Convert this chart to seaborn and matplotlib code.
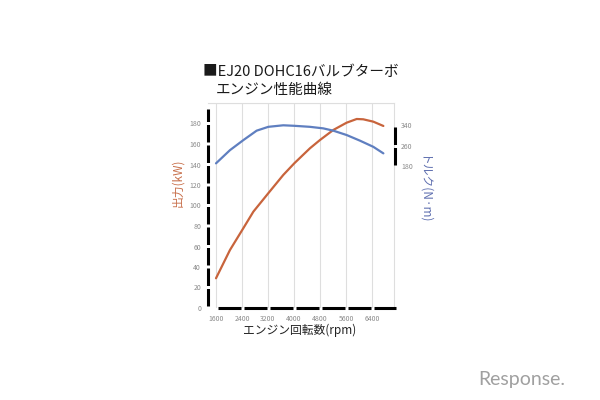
import matplotlib
matplotlib.use("Agg")
import matplotlib.pyplot as plt
import seaborn as sns
import pandas as pd

# ---- data ----
power_rpm = [1600, 2030, 2440, 2750, 3210, 3670, 4010, 4490, 4800, 5210, 5620, 5930, 6130, 6440, 6750]
power_kw = [29, 56.6, 77.8, 94, 112, 129.8, 141.2, 155.8, 163.9, 173.7, 180.8, 184.4, 184.1, 181.8, 177.6]
torque_rpm = [1600, 2030, 2440, 2850, 3210, 3670, 4010, 4490, 4900, 5210, 5620, 6030, 6440, 6750]
torque_nm = [190.5, 242, 281, 318, 333, 339, 337, 333, 327, 318, 301, 279, 255, 229.5]

x_ticks = [1600, 2400, 3200, 4000, 4800, 5600, 6400]
left_ticks = [0, 20, 40, 60, 80, 100, 120, 140, 160, 180]
right_ticks = [180, 260, 340]

title1 = "■EJ20 DOHC16バルブターボ"
title2 = "エンジン性能曲線"
xlabel = "エンジン回転数(rpm)"
ylabel_left = "出力(kW)"
ylabel_right = "トルク(N·m)"

power_df = pd.DataFrame({"rpm": power_rpm, "kW": power_kw})
torque_df = pd.DataFrame({"rpm": torque_rpm, "Nm": torque_nm})

sns.set_style("white")
plt.rcParams["font.family"] = ["Noto Sans CJK JP", "DejaVu Sans"]
plt.rcParams["lines.scale_dashes"] = False

ORANGE = "#c8643c"
BLUE = "#5f7fc0"
GRID = "#dedede"
TICKC = "#8a8a8a"

fig = plt.figure(figsize=(6, 4), dpi=100)
fig.patch.set_facecolor("white")
ax = fig.add_axes([208 / 600, 1 - 308 / 400, 186 / 600, 205 / 400])
ax2 = ax.twinx()

sns.lineplot(data=power_df, x="rpm", y="kW", ax=ax, color=ORANGE, linewidth=1.6)
sns.lineplot(data=torque_df, x="rpm", y="Nm", ax=ax2, color=BLUE, linewidth=1.6)

ax.set_xlim(1354, 7077)
ax.set_ylim(0, 200)
ax2.set_ylim(-374, 426)

ax.set_xticks(x_ticks)
ax.set_yticks(left_ticks)
ax2.set_yticks(right_ticks)
ax.set_xticklabels([str(v) for v in x_ticks])
ax.set_yticklabels([str(v) for v in left_ticks])
ax2.set_yticklabels([str(v) for v in right_ticks])

# grid: vertical at x ticks, horizontal every 20 up to top
ax.set_yticks(list(range(0, 201, 20)), minor=True)
ax.grid(True, which="major", axis="x", color=GRID, linewidth=0.8)
ax.grid(True, which="minor", axis="y", color=GRID, linewidth=0.8)
ax.set_axisbelow(True)

ax.tick_params(axis="both", which="both", length=0, labelsize=5, colors=TICKC)
ax.tick_params(axis="y", pad=5)
ax.tick_params(axis="x", pad=5)
ax2.tick_params(axis="y", length=0, labelsize=5, colors=TICKC, pad=4)

ax.set_xlabel("")
ax.set_ylabel("")
ax2.set_ylabel("")

# spines
for a in (ax, ax2):
    a.spines["top"].set_visible(False)
for s in ("left", "bottom", "right"):
    ax2.spines[s].set_visible(False)
ax.spines["right"].set_color(GRID)
ax.spines["right"].set_linewidth(0.8)
ax.spines["top"].set_visible(True)
ax.spines["top"].set_color(GRID)
ax.spines["top"].set_linewidth(0.8)

px_per_kw = 205 / 200.0
px_per_rpm = 186 / (7077 - 1354)
px_per_nm = 205 / 800.0
pt = 0.72  # points per pixel at 100 dpi
LW = 2.2

def dashed(sp, period_px, gap_px):
    sp.set_linewidth(LW)
    sp.set_color("black")
    sp.set_capstyle("butt")
    sp.set_linestyle((0, ((period_px - gap_px) * pt, gap_px * pt)))

# left: dashes with gaps at each tick
ax.spines["left"].set_bounds(1.5, 194)
dashed(ax.spines["left"], 20 * px_per_kw, 3.0)

# bottom
ax.spines["bottom"].set_bounds(1660, 7130)
dashed(ax.spines["bottom"], 800 * px_per_rpm, 3.0)

# right torque spine segment
ax2.spines["right"].set_visible(True)
ax2.spines["right"].set_bounds(184, 340)
ax2.spines["right"].set_position(("outward", 1))
dashed(ax2.spines["right"], 80 * px_per_nm, 3.0)

# texts
fig.text(203 / 600, 1 - 72 / 400, title1, fontsize=10.5, ha="left", va="center", color="#1a1a1a")
fig.text(216 / 600, 1 - 90 / 400, title2, fontsize=10.5, ha="left", va="center", color="#1a1a1a")
fig.text(300 / 600, 1 - 330 / 400, xlabel, fontsize=8.5, ha="center", va="center", color="#222222")
fig.text(178 / 600, 1 - 183 / 400, ylabel_left, fontsize=8.5, ha="center", va="center",
         rotation=90, color="#c8704c")
fig.text(423 / 600, 1 - 190 / 400, ylabel_right, fontsize=8.5, ha="center", va="center",
         rotation=270, color="#6070b0")
fig.text(478 / 600, 1 - 380 / 400, "Response.", fontsize=14, ha="left", va="center",
         color="#a0a0a0", family=["Lato", "DejaVu Sans"])

fig.savefig("out.png", dpi=100, facecolor="white")
